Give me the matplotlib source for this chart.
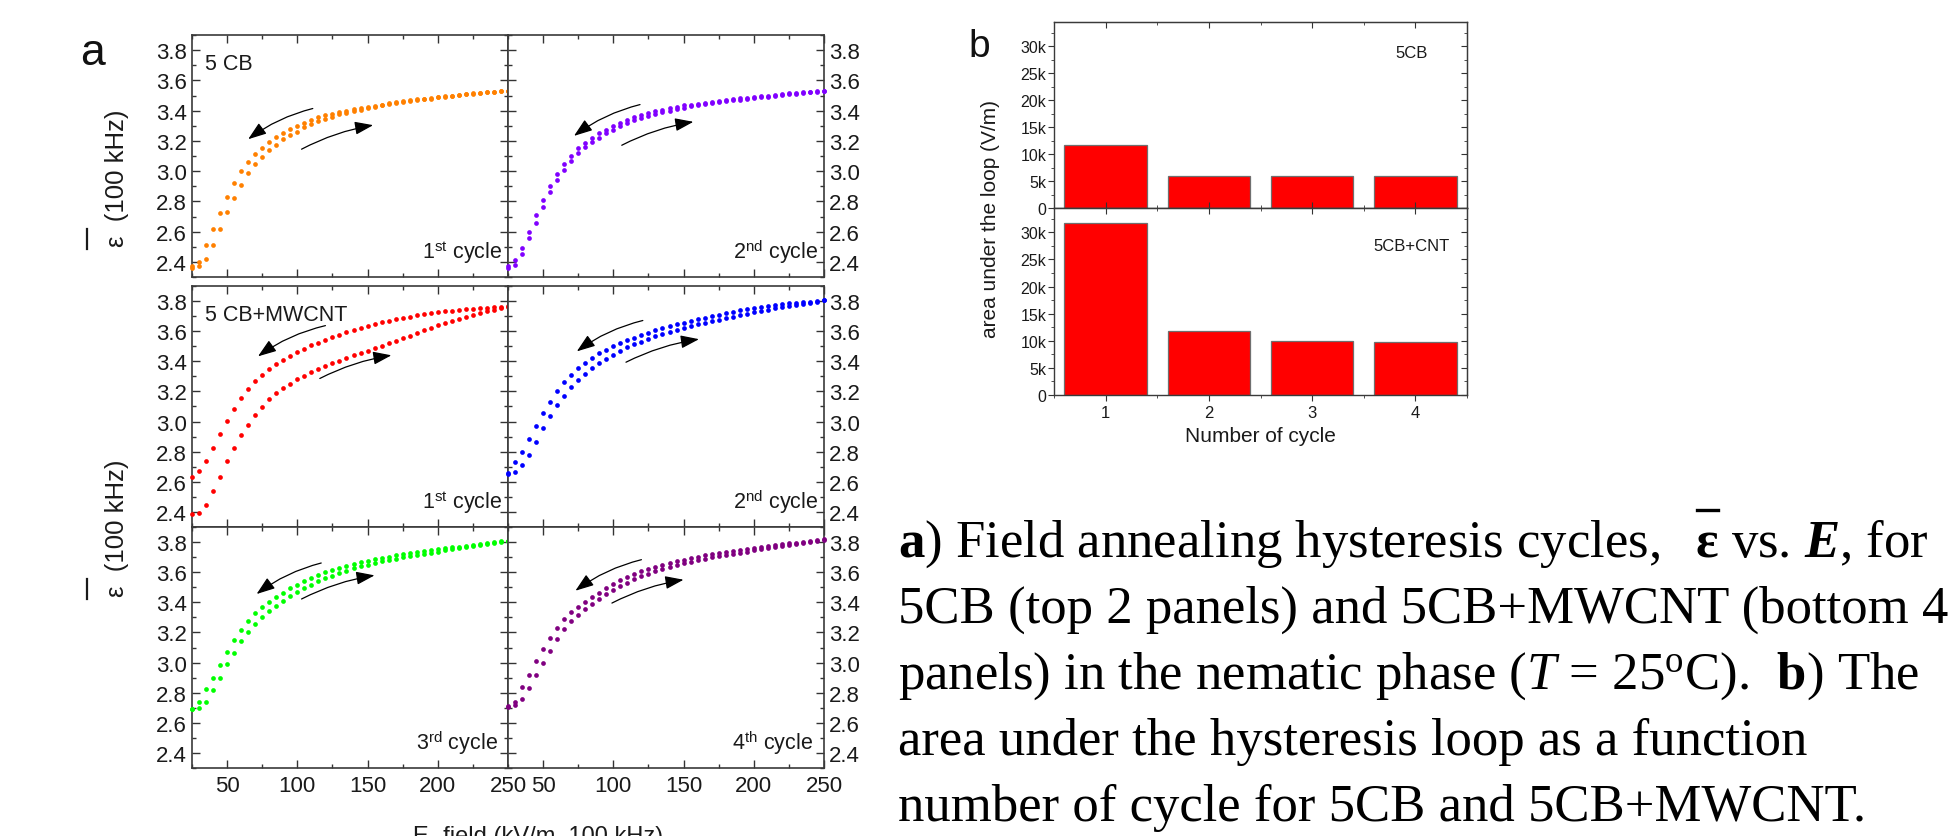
import matplotlib.pyplot as plt
from matplotlib.lines import Line2D
from matplotlib.ticker import MultipleLocator, FixedLocator, FuncFormatter, NullFormatter

plt.rcParams['font.family'] = ['Liberation Sans', 'DejaVu Sans']
plt.rcParams['mathtext.fontset'] = 'custom'
plt.rcParams['mathtext.rm'] = 'Liberation Serif'
plt.rcParams['mathtext.it'] = 'Liberation Serif:italic'
plt.rcParams['mathtext.bf'] = 'Liberation Serif:bold'
plt.rcParams['mathtext.bfit'] = 'Liberation Serif:bold:italic'
plt.rcParams['mathtext.sf'] = 'Liberation Sans'

# E-field sample points (kV/m) shared by all sweeps
e_field = [25, 30, 35, 40, 45, 50, 55, 60, 65, 70, 75, 80, 85, 90, 95, 100,
           105, 110, 115, 120, 125, 130, 135, 140, 145, 150, 155, 160, 165,
           170, 175, 180, 185, 190, 195, 200, 205, 210, 215, 220, 225, 230,
           235, 240, 245, 250]

# 5CB, 1st cycle (up = increasing field, down = decreasing field)
cb_c1_up = [2.36, 2.37, 2.42, 2.51, 2.62, 2.73, 2.82, 2.91, 2.985, 3.045, 3.095,
            3.14, 3.175, 3.21, 3.24, 3.26, 3.29, 3.31, 3.33, 3.345, 3.36, 3.375,
            3.385, 3.395, 3.405, 3.415, 3.425, 3.435, 3.445, 3.45, 3.455, 3.465,
            3.47, 3.475, 3.48, 3.487, 3.492, 3.497, 3.502, 3.507, 3.512, 3.517,
            3.52, 3.524, 3.527, 3.53]
cb_c1_down = [2.37, 2.40, 2.51, 2.615, 2.72, 2.83, 2.92, 3.00, 3.06, 3.11, 3.155,
              3.195, 3.225, 3.255, 3.28, 3.30, 3.32, 3.34, 3.355, 3.37, 3.38, 3.39,
              3.40, 3.408, 3.416, 3.424, 3.432, 3.44, 3.448, 3.455, 3.461, 3.468,
              3.474, 3.479, 3.484, 3.49, 3.495, 3.50, 3.505, 3.51, 3.514, 3.518,
              3.522, 3.525, 3.528, 3.53]
# 5CB, 2nd cycle
cb_c2_up = [2.36, 2.38, 2.45, 2.555, 2.66, 2.76, 2.86, 2.94, 3.005, 3.065, 3.12,
            3.157, 3.19, 3.22, 3.25, 3.275, 3.30, 3.32, 3.335, 3.35, 3.365, 3.378,
            3.39, 3.40, 3.41, 3.42, 3.428, 3.436, 3.443, 3.45, 3.456, 3.462, 3.468,
            3.473, 3.478, 3.483, 3.488, 3.493, 3.498, 3.503, 3.508, 3.513, 3.518,
            3.522, 3.526, 3.53]
cb_c2_down = [2.37, 2.41, 2.49, 2.60, 2.71, 2.81, 2.90, 2.98, 3.045, 3.10, 3.15,
              3.185, 3.22, 3.25, 3.275, 3.30, 3.32, 3.34, 3.355, 3.37, 3.385, 3.395,
              3.405, 3.415, 3.425, 3.435, 3.44, 3.447, 3.453, 3.46, 3.465, 3.47,
              3.476, 3.481, 3.486, 3.49, 3.495, 3.50, 3.505, 3.51, 3.514, 3.518,
              3.522, 3.525, 3.528, 3.53]
# 5CB+MWCNT, cycles 1-4
cnt_c1_up = [2.385, 2.39, 2.445, 2.538, 2.635, 2.735, 2.826, 2.91, 2.978, 3.042,
             3.098, 3.147, 3.187, 3.222, 3.252, 3.28, 3.305, 3.327, 3.348, 3.368,
             3.387, 3.405, 3.422, 3.439, 3.455, 3.471, 3.487, 3.503, 3.52, 3.537,
             3.554, 3.571, 3.588, 3.605, 3.622, 3.638, 3.654, 3.668, 3.682, 3.695,
             3.708, 3.72, 3.732, 3.743, 3.753, 3.762]
cnt_c1_down = [2.63, 2.674, 2.735, 2.824, 2.916, 3.003, 3.086, 3.157, 3.217, 3.267,
               3.312, 3.35, 3.384, 3.412, 3.438, 3.462, 3.484, 3.505, 3.524, 3.542,
               3.559, 3.577, 3.593, 3.608, 3.622, 3.636, 3.648, 3.659, 3.669, 3.679,
               3.688, 3.697, 3.705, 3.713, 3.72, 3.726, 3.732, 3.737, 3.742, 3.746,
               3.75, 3.754, 3.757, 3.76, 3.762, 3.764]
cnt_c2_up = [2.655, 2.665, 2.71, 2.778, 2.865, 2.955, 3.035, 3.107, 3.17, 3.23,
             3.275, 3.316, 3.355, 3.388, 3.418, 3.445, 3.47, 3.492, 3.512, 3.531,
             3.549, 3.566, 3.581, 3.596, 3.61, 3.623, 3.635, 3.646, 3.656, 3.666,
             3.676, 3.686, 3.696, 3.706, 3.716, 3.725, 3.734, 3.743, 3.752, 3.76,
             3.768, 3.776, 3.783, 3.79, 3.797, 3.804]
cnt_c2_down = [2.66, 2.73, 2.80, 2.885, 2.97, 3.055, 3.133, 3.20, 3.26, 3.311,
               3.355, 3.39, 3.423, 3.452, 3.478, 3.50, 3.52, 3.54, 3.558, 3.575,
               3.59, 3.605, 3.619, 3.632, 3.645, 3.657, 3.668, 3.679, 3.69, 3.70,
               3.71, 3.72, 3.729, 3.738, 3.747, 3.755, 3.762, 3.768, 3.774, 3.779,
               3.784, 3.789, 3.793, 3.797, 3.801, 3.804]
cnt_c3_up = [2.69, 2.70, 2.74, 2.815, 2.90, 2.99, 3.065, 3.14, 3.203, 3.255, 3.30,
             3.34, 3.375, 3.41, 3.44, 3.47, 3.495, 3.518, 3.54, 3.56, 3.578, 3.595,
             3.61, 3.625, 3.638, 3.65, 3.661, 3.671, 3.681, 3.69, 3.699, 3.707,
             3.715, 3.723, 3.73, 3.737, 3.744, 3.751, 3.758, 3.765, 3.772, 3.779,
             3.786, 3.793, 3.80, 3.806]
cnt_c3_down = [2.69, 2.74, 2.825, 2.895, 2.985, 3.072, 3.15, 3.218, 3.276, 3.327,
               3.37, 3.405, 3.436, 3.465, 3.492, 3.517, 3.54, 3.561, 3.58, 3.598,
               3.614, 3.629, 3.643, 3.655, 3.666, 3.676, 3.686, 3.695, 3.704, 3.712,
               3.72, 3.727, 3.734, 3.74, 3.746, 3.752, 3.758, 3.764, 3.77, 3.776,
               3.782, 3.788, 3.794, 3.80, 3.805, 3.809]
cnt_c4_up = [2.705, 2.715, 2.76, 2.831, 2.915, 3.00, 3.08, 3.157, 3.222, 3.273,
             3.318, 3.355, 3.39, 3.425, 3.455, 3.482, 3.507, 3.53, 3.552, 3.572,
             3.59, 3.607, 3.622, 3.636, 3.648, 3.66, 3.67, 3.68, 3.69, 3.699, 3.707,
             3.715, 3.723, 3.73, 3.737, 3.744, 3.751, 3.758, 3.765, 3.772, 3.779,
             3.786, 3.793, 3.80, 3.808, 3.816]
cnt_c4_down = [2.71, 2.74, 2.84, 2.915, 3.01, 3.087, 3.166, 3.232, 3.288, 3.334,
               3.372, 3.405, 3.435, 3.465, 3.495, 3.52, 3.545, 3.565, 3.585, 3.605,
               3.62, 3.635, 3.648, 3.66, 3.672, 3.683, 3.693, 3.703, 3.712, 3.72,
               3.728, 3.735, 3.742, 3.749, 3.755, 3.761, 3.767, 3.773, 3.779, 3.785,
               3.791, 3.797, 3.803, 3.809, 3.815, 3.82]

# panel b: area under the hysteresis loop (V/m)
cycles = [1, 2, 3, 4]
area_5cb = [11700, 6000, 6000, 6000]
area_cnt = [31800, 11800, 9900, 9700]

W, H = 1955, 837
fig = plt.figure(figsize=(W / 100, H / 100), dpi=100)


def box(x0, y0, x1, y1):
    # pixel box (from top-left) -> figure fraction rect
    return [x0 / W, 1 - y1 / H, (x1 - x0) / W, (y1 - y0) / H]


cols = [(192, 508), (508, 824)]
rows = [(36, 278), (287, 528), (528, 769)]

# (row, col), up, down, colour, sample label, cycle label, arrows (start, end)
panels = [
    ((0, 0), cb_c1_up, cb_c1_down, '#ff8000', '5 CB', r'1$^{\mathsf{st}}$ cycle',
     [((111, 3.414), (65, 3.211)), ((103, 3.145), (154, 3.304))]),
    ((0, 1), cb_c2_up, cb_c2_down, '#8000ff', '', r'2$^{\mathsf{nd}}$ cycle',
     [((119, 3.44), (72, 3.233)), ((106, 3.171), (157, 3.326))]),
    ((1, 0), cnt_c1_up, cnt_c1_down, '#ff0000', '5 CB+MWCNT', r'1$^{\mathsf{st}}$ cycle',
     [((120, 3.637), (72, 3.433)), ((116, 3.286), (167, 3.44))]),
    ((1, 1), cnt_c2_up, cnt_c2_down, '#0000ff', '', r'2$^{\mathsf{nd}}$ cycle',
     [((121, 3.671), (74, 3.466)), ((109, 3.394), (161, 3.547))]),
    ((2, 0), cnt_c3_up, cnt_c3_down, '#00ff00', '', r'3$^{\mathsf{rd}}$ cycle',
     [((117, 3.661), (71, 3.455)), ((103, 3.422), (155, 3.579))]),
    ((2, 1), cnt_c4_up, cnt_c4_down, '#800080', '', r'4$^{\mathsf{th}}$ cycle',
     [((120, 3.683), (73, 3.477)), ((99, 3.395), (150, 3.55))]),
]

for (r, c), up, down, color, name, cyc, arrows in panels:
    ax = fig.add_axes(box(cols[c][0], rows[r][0], cols[c][1], rows[r][1]))
    for ys in (up, down):
        ax.plot(e_field, ys, 'o', ms=3.4, color=color, mec='none', clip_on=False, zorder=3)
    ax.set_xlim(25, 250)
    ax.set_ylim(2.3, 3.9)
    ax.xaxis.set_major_locator(MultipleLocator(50))
    ax.xaxis.set_minor_locator(MultipleLocator(25))
    ax.yaxis.set_major_locator(MultipleLocator(0.2))
    ax.yaxis.set_minor_locator(MultipleLocator(0.1))
    ax.yaxis.set_major_formatter(FuncFormatter(lambda v, p: f'{v:.1f}'))
    ax.tick_params(which='both', direction='in', top=True, right=True,
                   color='#333333', labelcolor='#1a1a1a', width=1.0, labelsize=16,
                   labelleft=(c == 0), labelright=(c == 1), labelbottom=(r == 2))
    ax.tick_params(which='major', length=5.5)
    ax.tick_params(which='minor', length=3)
    ax.tick_params(axis='y', pad=3.5)
    ax.tick_params(axis='x', pad=5)
    for sp in ax.spines.values():
        sp.set_color('#3a3a3a')
        sp.set_linewidth(1.2)
    if name:
        ax.text(0.041, 0.925, name, transform=ax.transAxes, fontsize=15.5,
                ha='left', va='top', color='#1a1a1a')
    ax.text(0.982 if r < 2 else 0.967, 0.08, cyc, transform=ax.transAxes,
            fontsize=15.5, ha='right', va='baseline', color='#1a1a1a')
    for k, (start, end) in enumerate(arrows):
        ax.annotate('', xy=end, xytext=start,
                    arrowprops=dict(arrowstyle='-|>,head_length=0.7,head_width=0.25',
                                    color='black', lw=0.9, mutation_scale=16,
                                    shrinkA=0, shrinkB=0,
                                    connectionstyle='arc3,rad=%s' % (0.1 if k == 0 else -0.08)))

# panel a axis labels
for bottom in (247, 597):
    fig.text(117 / W, 1 - bottom / H, 'ε  (100 kHz)', rotation=90, fontsize=18.5,
             ha='center', va='bottom', color='#1a1a1a')
    fig.add_artist(Line2D([87 / W, 87 / W], [1 - (bottom - 17) / H, 1 - (bottom + 3) / H],
                          transform=fig.transFigure, color='#1a1a1a', lw=1.6))
fig.text(538 / W, 1 - 826 / H, 'E- field (kV/m, 100 kHz)', fontsize=17,
         ha='center', va='top', color='#1a1a1a')
fig.text(80 / W, 1 - 65 / H, 'a', fontsize=32, va='baseline', color='#111111')

# panel b
kfmt = FuncFormatter(lambda v, p: '0' if v == 0 else f'{v / 1000:.0f}k')
for (y0, y1), vals, tag, ty, is_bottom in [((23, 209), area_5cb, '5CB', 53, False),
                                            ((209, 396), area_cnt, '5CB+CNT', 247, True)]:
    ax = fig.add_axes(box(1054, y0, 1467, y1))
    ax.bar(cycles, vals, width=0.8, color='#ff0000', edgecolor='#6f6f6f', linewidth=0.9)
    ax.set_xlim(0.5, 4.5)
    ax.set_ylim(0, 34500)
    ax.yaxis.set_major_locator(MultipleLocator(5000))
    ax.yaxis.set_minor_locator(MultipleLocator(2500))
    ax.yaxis.set_major_formatter(kfmt)
    ax.xaxis.set_major_locator(FixedLocator(cycles))
    ax.xaxis.set_minor_locator(MultipleLocator(0.5))
    ax.tick_params(axis='y', which='both', direction='out', labelsize=11.5, pad=1.5,
                   color='#333333', labelcolor='#1a1a1a')
    ax.tick_params(axis='x', which='both', direction='out' if is_bottom else 'in',
                   labelbottom=is_bottom, labelsize=12, pad=3, color='#333333',
                   labelcolor='#1a1a1a')
    ax.tick_params(which='major', length=4)
    ax.tick_params(which='minor', length=2.5)
    for sp in ax.spines.values():
        sp.set_color('#3a3a3a')
        sp.set_linewidth(1.0)
    sec_r = ax.secondary_yaxis('right')
    sec_r.yaxis.set_major_locator(MultipleLocator(5000))
    sec_r.yaxis.set_minor_locator(MultipleLocator(2500))
    sec_r.yaxis.set_major_formatter(NullFormatter())
    sec_r.tick_params(which='both', direction='in', color='#333333')
    sec_r.tick_params(which='major', length=4)
    sec_r.tick_params(which='minor', length=2.5)
    sec_t = ax.secondary_xaxis('top')
    sec_t.xaxis.set_major_locator(FixedLocator(cycles))
    sec_t.xaxis.set_minor_locator(MultipleLocator(0.5))
    sec_t.xaxis.set_major_formatter(NullFormatter())
    sec_t.tick_params(which='both', direction='in', color='#333333')
    sec_t.tick_params(which='major', length=4)
    sec_t.tick_params(which='minor', length=2.5)
    for sp in list(sec_r.spines.values()) + list(sec_t.spines.values()):
        sp.set_color('#3a3a3a')
    fig.text(1412 / W, 1 - ty / H, tag, fontsize=12, ha='center', va='center',
             color='#1a1a1a')

fig.text(990 / W, 1 - 219 / H, 'area under the loop (V/m)', rotation=90, fontsize=15,
         ha='center', va='center', color='#1a1a1a')
fig.text(1260 / W, 1 - 437 / H, 'Number of cycle', fontsize=15, ha='center',
         va='center', color='#1a1a1a')
fig.text(968 / W, 1 - 57 / H, 'b', fontsize=28, va='baseline', color='#111111')

# caption
renderer = fig.canvas.get_renderer()
cap = dict(family='Liberation Serif', fontsize=38, va='baseline', ha='left', color='black')
base = [557, 623, 689, 755, 821]
t1 = fig.text(898 / W, 1 - base[0] / H, r'$\mathbf{a}$) Field annealing hysteresis cycles,', **cap)
bb = t1.get_window_extent(renderer)
eps = fig.text((bb.x1 + 36) / W, 1 - base[0] / H, 'ε', fontweight='bold', **cap)
eb = eps.get_window_extent(renderer)
fig.add_artist(Line2D([(eb.x0 + 1) / W, (eb.x1 - 1) / W], [1 - 511 / H] * 2,
                      transform=fig.transFigure, color='black', lw=2.4))
fig.text((eb.x1 + 12) / W, 1 - base[0] / H, r'vs. $\mathbfit{E}$, for', **cap)
fig.text(898 / W, 1 - base[1] / H, '5CB (top 2 panels) and 5CB+MWCNT (bottom 4', **cap)
fig.text(898 / W, 1 - base[2] / H,
         r'panels) in the nematic phase ($\mathit{T}$ = 25$^{\mathrm{o}}$C).  $\mathbf{b}$) The', **cap)
fig.text(898 / W, 1 - base[3] / H, 'area under the hysteresis loop as a function', **cap)
fig.text(898 / W, 1 - base[4] / H, 'number of cycle for 5CB and 5CB+MWCNT.', **cap)

fig.savefig('out.png', dpi=100)
